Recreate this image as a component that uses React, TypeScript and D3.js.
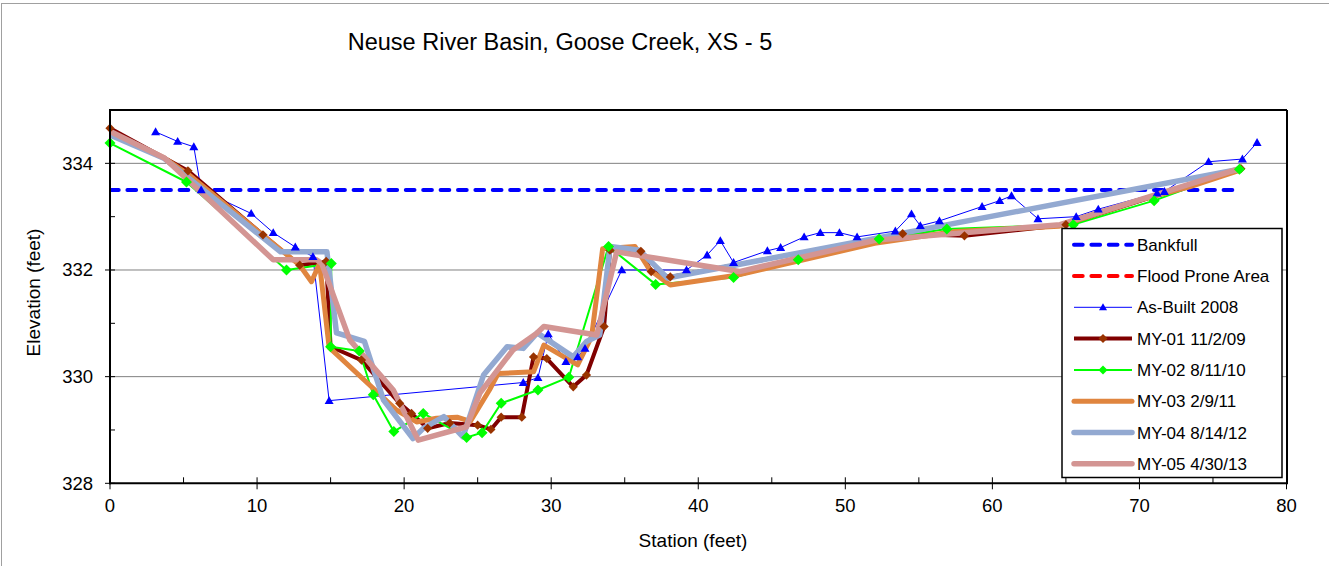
import React from 'react';
import * as d3 from 'd3';

// ---------- data ----------
const titleText = 'Neuse River Basin, Goose Creek, XS - 5';
const xTicks = [0, 10, 20, 30, 40, 50, 60, 70, 80];
const xMinorTicks = [5, 15, 25, 35, 45, 55, 65, 75];
const yTicks = [328, 330, 332, 334];
const yMinorTicks = [329, 331, 333];

const bankfullStation = [0, 76.8];
const bankfullElev = [333.5, 333.5];

// flood prone elevation lies above the plotted range (off chart)
const floodStation = [0, 78];
const floodElev = [338.1, 338.1];

const asBuiltStation = [3.1, 4.6, 5.7, 6.2, 9.6, 11.1, 12.6, 13.8, 14.9, 28.1, 29.1, 29.8, 31.0, 31.8, 32.3, 34.8, 39.2, 40.6, 41.5, 42.4, 44.7, 45.6, 47.2, 48.3, 49.6, 50.8, 53.4, 54.5, 55.1, 56.4, 59.3, 60.5, 61.3, 63.1, 65.7, 67.2, 71.2, 71.7, 74.7, 77.0, 78.0];
const asBuiltElev = [334.59, 334.41, 334.31, 333.5, 333.06, 332.7, 332.43, 332.25, 329.55, 329.89, 329.98, 330.8, 330.28, 330.37, 330.53, 332.0, 332.0, 332.28, 332.55, 332.14, 332.36, 332.42, 332.62, 332.7, 332.7, 332.62, 332.73, 333.05, 332.83, 332.92, 333.19, 333.3, 333.39, 332.96, 333.0, 333.14, 333.44, 333.47, 334.03, 334.08, 334.39];

const my01Station = [0, 5.3, 10.4, 12.9, 14.7, 15.0, 17.1, 19.7, 20.5, 21.6, 23.1, 25.0, 25.9, 26.6, 28.0, 28.8, 29.7, 31.5, 32.4, 33.6, 34.0, 36.1, 36.8, 38.1, 53.9, 58.1, 65.0, 76.9];
const my01Elev = [334.66, 333.86, 332.66, 332.09, 332.16, 330.56, 330.31, 329.5, 329.31, 329.03, 329.13, 329.09, 329.01, 329.24, 329.24, 330.37, 330.34, 329.81, 330.03, 330.94, 332.37, 332.35, 331.97, 331.87, 332.68, 332.64, 332.85, 333.9];

const my02Station = [0, 5.2, 12.0, 15.05, 15.0, 16.95, 17.9, 19.3, 21.3, 24.25, 25.3, 26.6, 29.1, 31.2, 33.9, 37.1, 42.4, 46.8, 52.3, 56.9, 65.5, 71.0, 76.8];
const my02Elev = [334.38, 333.65, 332.0, 332.12, 330.56, 330.48, 329.66, 328.97, 329.31, 328.86, 328.95, 329.5, 329.75, 329.99, 332.44, 331.73, 331.86, 332.19, 332.58, 332.77, 332.85, 333.3, 333.89];

const my03Station = [0, 3.7, 5.3, 12.9, 13.7, 14.25, 14.9, 19.5, 20.85, 22.2, 23.6, 24.5, 25.8, 26.4, 28.8, 29.5, 31.8, 32.75, 33.5, 35.7, 36.7, 38.1, 42.6, 52.0, 57.5, 64.5, 70.0, 73.4, 76.8];
const my03Elev = [334.59, 334.1, 333.8, 332.09, 331.78, 332.12, 330.55, 329.37, 329.15, 329.22, 329.24, 329.16, 329.75, 330.06, 330.09, 330.59, 330.22, 330.75, 332.4, 332.44, 332.0, 331.72, 331.9, 332.5, 332.72, 332.82, 333.31, 333.56, 333.87];

const my04Station = [0, 3.7, 11.6, 14.75, 15.4, 17.3, 18.6, 20.6, 21.3, 22.7, 24.0, 25.4, 27.0, 28.1, 29.05, 31.5, 32.4, 33.3, 34.0, 36.0, 37.9, 76.8];
const my04Elev = [334.53, 334.09, 332.34, 332.34, 330.82, 330.66, 329.56, 328.84, 329.03, 329.25, 328.87, 330.03, 330.56, 330.53, 330.82, 330.37, 330.66, 330.78, 332.44, 332.37, 331.85, 333.89];

const my05Station = [0, 3.7, 11.1, 14.05, 14.4, 16.3, 19.26, 20.96, 24.25, 25.15, 27.4, 29.0, 29.5, 33.1, 34.45, 39.4, 42.8, 52.1, 64.6, 76.8];
const my05Elev = [334.6, 334.1, 332.19, 332.19, 332.12, 330.69, 329.75, 328.81, 329.06, 329.69, 330.5, 330.81, 330.94, 330.78, 332.34, 332.12, 331.97, 332.56, 332.85, 333.9];

type Series = {
  name: string;
  st: number[];
  el: number[];
  color: string;
  width: number;
  dash?: string;
  marker?: 'triangle' | 'diamond';
  markerColor?: string;
  markerR?: number;
};

const series: Series[] = [
  { name: 'Bankfull', st: bankfullStation, el: bankfullElev, color: '#0000FF', width: 4, dash: '8.7 8.7' },
  { name: 'Flood Prone Area', st: floodStation, el: floodElev, color: '#FF0000', width: 4, dash: '8.7 8.7' },
  { name: 'As-Built 2008', st: asBuiltStation, el: asBuiltElev, color: '#0000FF', width: 1, marker: 'triangle', markerColor: '#0000FF', markerR: 4.5 },
  { name: 'MY-01 11/2/09', st: my01Station, el: my01Elev, color: '#800000', width: 4, marker: 'diamond', markerColor: '#993300', markerR: 4.6 },
  { name: 'MY-02 8/11/10', st: my02Station, el: my02Elev, color: '#00FF00', width: 2, marker: 'diamond', markerColor: '#00FF00', markerR: 5.5 },
  { name: 'MY-03 2/9/11', st: my03Station, el: my03Elev, color: '#E0853F', width: 5 },
  { name: 'MY-04 8/14/12', st: my04Station, el: my04Elev, color: '#93A9D1', width: 5.5 },
  { name: 'MY-05 4/30/13', st: my05Station, el: my05Elev, color: '#D39593', width: 5.5 },
];

// ---------- layout ----------
const W = 1329;
const H = 566;
const L = 110, R = 1287, T = 110, B = 483.3;
const FONT = '"Liberation Sans", Arial, Helvetica, sans-serif';

const x = d3.scaleLinear().domain([0, 80]).range([L, 1286.5]);
const y = d3.scaleLinear().domain([328, 335]).range([B, T]);

function markerPath(kind: 'triangle' | 'diamond', r: number) {
  if (kind === 'triangle') return `M0,${-r} L${r},${r * 0.75} L${-r},${r * 0.75} Z`;
  return `M0,${-r} L${r},0 L0,${r} L${-r},0 Z`;
}

export default function App() {
  const lineGen = d3
    .line<[number, number]>()
    .x((d) => x(d[0]))
    .y((d) => y(d[1]));

  const pts = (s: Series) => s.st.map((v, i) => [v, s.el[i]] as [number, number]);

  const legX = 1062, legY = 228.5, legW = 220, legH = 249;
  const legRow0 = 250.7, legStep = 31.3;

  return (
    <svg
      width={W}
      height={H}
      style={{ position: 'absolute', left: 0, top: 0, background: '#fff' }}
      fontFamily={FONT}
    >
      <defs>
        <clipPath id="plotClip">
          <rect x={L} y={T} width={R - L} height={B - T} />
        </clipPath>
      </defs>
      <rect x={0} y={0} width={W} height={H} fill="#fff" />
      <rect x={1.5} y={3.5} width={W + 10} height={H + 10} fill="none" stroke="#a0a0a0" strokeWidth={1} />

      {/* title */}
      <text x={560} y={50} textAnchor="middle" fontSize={23.5} fill="#000">
        {titleText}
      </text>

      {/* gridlines */}
      {yTicks.filter((t) => t > 328).map((t) => (
        <line key={'g' + t} x1={L} x2={R} y1={y(t)} y2={y(t)} stroke="#808080" strokeWidth={1} />
      ))}

      {/* series lines */}
      <g clipPath="url(#plotClip)">
        {series.map((s) => (
          <path
            key={'l' + s.name}
            d={lineGen(pts(s)) || ''}
            fill="none"
            stroke={s.color}
            strokeWidth={s.width}
            strokeDasharray={s.dash}
            strokeLinecap={s.dash ? 'round' : 'butt'}
            strokeLinejoin="round"
          />
        ))}
      </g>
      {/* markers */}
      {series
        .filter((s) => s.marker)
        .map((s) =>
          pts(s).map((p, i) => (
            <path
              key={s.name + 'm' + i}
              d={markerPath(s.marker!, s.markerR!)}
              transform={`translate(${x(p[0])},${y(p[1])})`}
              fill={s.markerColor}
              stroke="none"
            />
          ))
        )}

      {/* plot frame */}
      <line x1={L} x2={R} y1={T} y2={T} stroke="#000" strokeWidth={2} />
      <line x1={R} x2={R} y1={T} y2={B} stroke="#000" strokeWidth={2} />
      <line x1={L} x2={L} y1={T - 1} y2={B + 1} stroke="#000" strokeWidth={2} />
      <line x1={L - 1} x2={R + 1} y1={B} y2={B} stroke="#000" strokeWidth={2} />

      {/* x ticks */}
      {xTicks.map((t) => (
        <g key={'xt' + t}>
          <line x1={x(t)} x2={x(t)} y1={B - 6} y2={B + 6} stroke="#000" strokeWidth={1} />
          <text x={x(t)} y={512} textAnchor="middle" fontSize={18.5} fill="#000">
            {t}
          </text>
        </g>
      ))}
      {xMinorTicks.map((t) => (
        <line key={'xm' + t} x1={x(t)} x2={x(t)} y1={B - 6} y2={B} stroke="#000" strokeWidth={1} />
      ))}

      {/* y ticks */}
      {yTicks.map((t) => (
        <g key={'yt' + t}>
          <line x1={L - 5} x2={L + 5} y1={y(t)} y2={y(t)} stroke="#000" strokeWidth={1} />
          <text x={93} y={y(t) + 6.5} textAnchor="end" fontSize={18.5} fill="#000">
            {t}
          </text>
        </g>
      ))}
      {yMinorTicks.map((t) => (
        <line key={'ym' + t} x1={L} x2={L + 5} y1={y(t)} y2={y(t)} stroke="#000" strokeWidth={1} />
      ))}

      {/* axis titles */}
      <text x={693} y={547} textAnchor="middle" fontSize={19} fill="#000">
        Station (feet)
      </text>
      <text transform="translate(39.5,292.5) rotate(-90)" textAnchor="middle" fontSize={19} fill="#000">
        Elevation (feet)
      </text>

      {/* legend */}
      <rect x={legX} y={legY} width={legW} height={legH} fill="#fff" stroke="#000" strokeWidth={1.5} />
      {series.map((s, i) => {
        const by = legRow0 + i * legStep;
        const cy = by - 6;
        return (
          <g key={'lg' + s.name}>
            <line
              x1={1074}
              x2={1132}
              y1={cy}
              y2={cy}
              stroke={s.color}
              strokeWidth={s.width}
              strokeDasharray={s.dash}
              strokeLinecap={s.dash || s.width >= 5 ? 'round' : 'butt'}
            />
            {s.marker && (
              <path
                d={markerPath(s.marker, s.marker === 'triangle' ? 4 : 4.5)}
                transform={`translate(1103,${cy})`}
                fill={s.markerColor}
              />
            )}
            <text x={1137} y={by} fontSize={17} fill="#000">
              {s.name}
            </text>
          </g>
        );
      })}
    </svg>
  );
}
